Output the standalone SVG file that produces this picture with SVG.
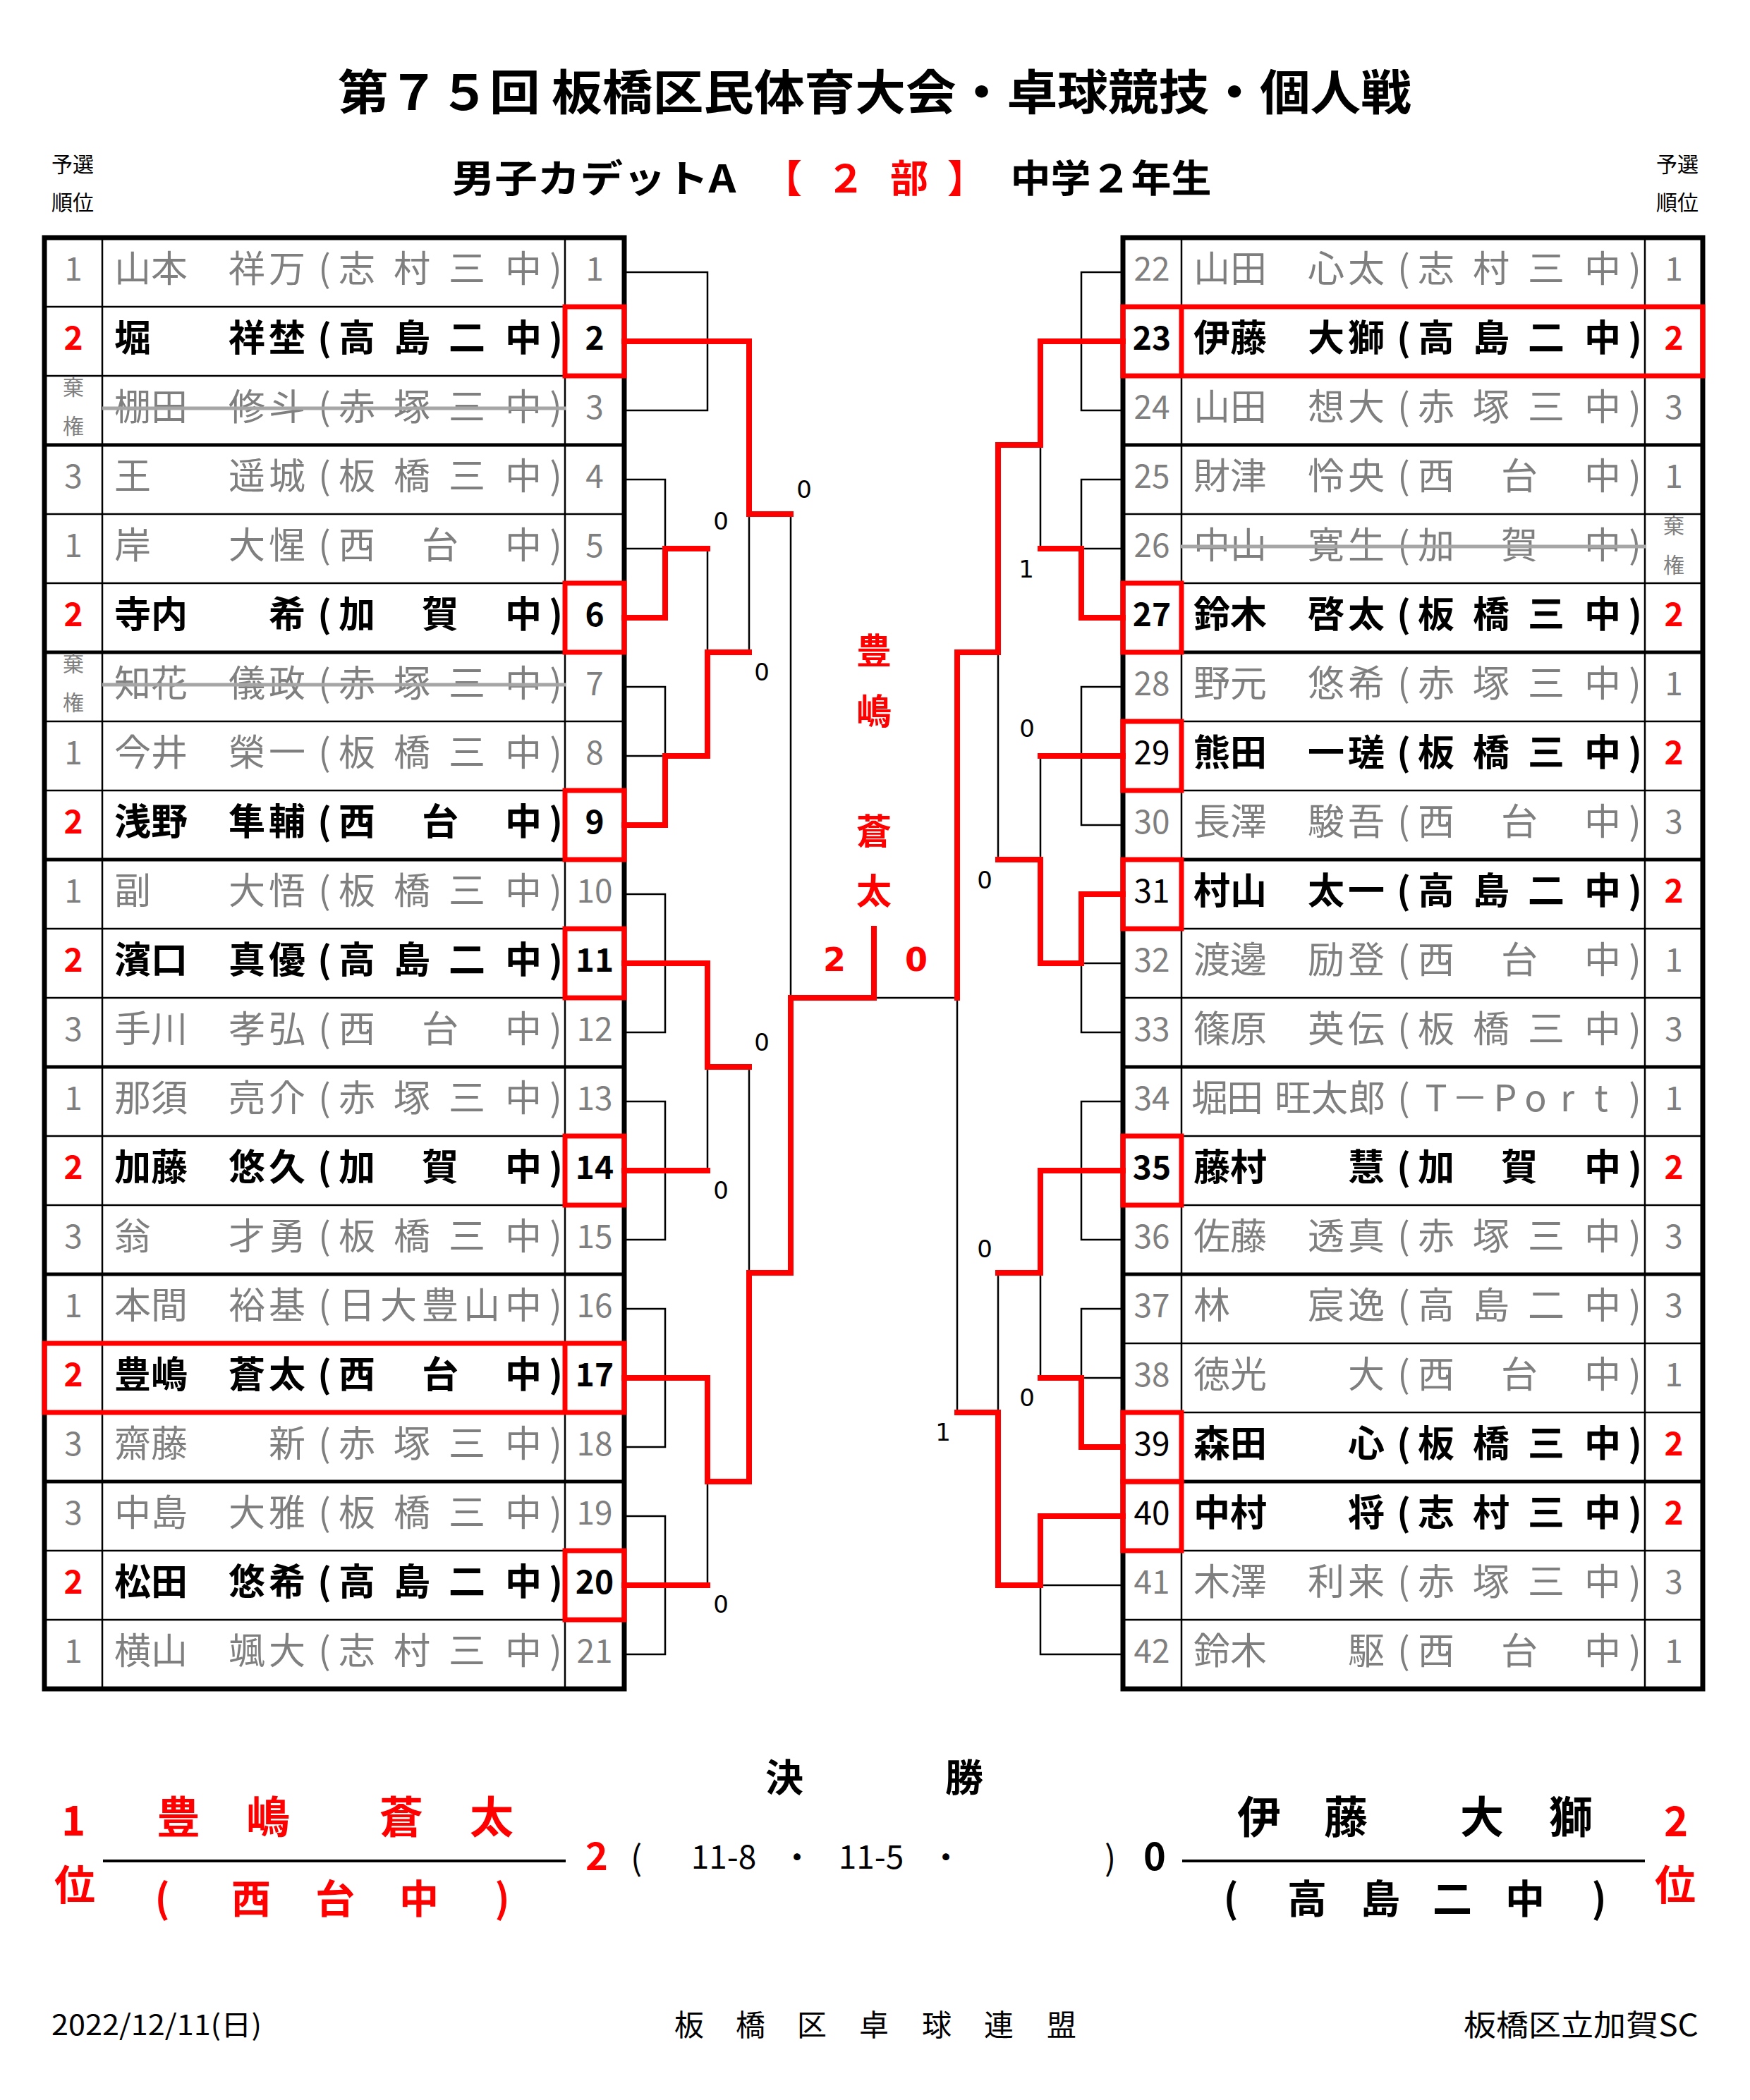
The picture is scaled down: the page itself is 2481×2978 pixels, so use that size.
<svg xmlns="http://www.w3.org/2000/svg" width="2481" height="2978" viewBox="0 0 2481 2978">
<style>
.t{font-family:"Noto Sans CJK JP","Noto Sans",sans-serif;text-anchor:middle}
.gr{fill:#7f7f7f}
.bk{fill:#000}
.bd{font-weight:700}
.rd{fill:#ff0000}
.nm{font-size:52px}
.nu{font-size:46px}
.sm{font-size:30px}
.sc{font-family:"DejaVu Sans",sans-serif;font-size:34px;text-anchor:middle;fill:#000}
.thin{stroke:#000;stroke-width:2.5;fill:none}
.grp{stroke:#000;stroke-width:5;fill:none}
.outer{stroke:#000;stroke-width:7;fill:none}
.rbox{stroke:#ff0000;stroke-width:7;fill:none}
.wire{stroke:#000;stroke-width:2.5;fill:none}
.win{stroke:#ff0000;stroke-width:8;fill:none;stroke-linecap:square;stroke-linejoin:miter}
.strike{stroke:#a6a6a6;stroke-width:5}
</style>
<rect width="2481" height="2978" fill="#fff"/>

<g id="header">
<text class="t bk bd" x="1240" y="156" font-size="68" textLength="1522" lengthAdjust="spacingAndGlyphs">第７５回 板橋区民体育大会・卓球競技・個人戦</text>
<text class="t bk bd" x="842" y="273" font-size="54" textLength="403" lengthAdjust="spacingAndGlyphs">男子カデットA</text>
<text class="t rd bd" x="1110 1199 1289 1370" y="273" font-size="54">【２部】</text>
<text class="t bk bd" x="1575" y="273" font-size="54" textLength="285" lengthAdjust="spacingAndGlyphs">中学２年生</text>
<text class="t bk sm" x="103" y="244">予選</text>
<text class="t bk sm" x="103" y="298">順位</text>
<text class="t bk sm" x="2378" y="244">予選</text>
<text class="t bk sm" x="2378" y="298">順位</text>
</g>

<g id="left-table">
<rect class="outer" x="63" y="337" width="822" height="2058"/>
<path class="thin" d="M145,337V2395M801,337V2395M63,435H885M63,533H885M63,729H885M63,827H885M63,1023H885M63,1121H885M63,1317H885M63,1415H885M63,1611H885M63,1709H885M63,1905H885M63,2003H885M63,2199H885M63,2297H885"/>
<path class="grp" d="M63,631H885M63,925H885M63,1219H885M63,1513H885M63,1807H885M63,2101H885"/>
</g>
<g id="right-table">
<rect class="outer" x="1592" y="337" width="822" height="2058"/>
<path class="thin" d="M1675,337V2395M2332,337V2395M1592,435H2414M1592,533H2414M1592,729H2414M1592,827H2414M1592,1023H2414M1592,1121H2414M1592,1317H2414M1592,1415H2414M1592,1611H2414M1592,1709H2414M1592,1905H2414M1592,2003H2414M1592,2199H2414M1592,2297H2414"/>
<path class="grp" d="M1592,631H2414M1592,925H2414M1592,1219H2414M1592,1513H2414M1592,1807H2414M1592,2101H2414"/>
</g>

<g id="L1"><text class="t gr nu" x="104" y="398">1</text><text class="t gr nm" x="188 240 350 407 460 506 584 662 742 788" y="400">山本祥万(志村三中)</text><text class="t gr nu" x="843" y="398">1</text></g>
<g id="L2"><text class="t rd bd nu" x="104" y="496">2</text><text class="t bk bd nm" x="188 350 407 460 506 584 662 742 788" y="498">堀祥埜(高島二中)</text><text class="t bk bd nu" x="843" y="496">2</text></g>
<g id="L3"><text class="t gr sm" x="104" y="560">棄</text><text class="t gr sm" x="104" y="615">権</text><text class="t gr nm" x="188 240 350 407 460 506 584 662 742 788" y="596">棚田修斗(赤塚三中)</text><line class="strike" x1="145" y1="579" x2="802" y2="579"/><text class="t gr nu" x="843" y="594">3</text></g>
<g id="L4"><text class="t gr nu" x="104" y="692">3</text><text class="t gr nm" x="188 350 407 460 506 584 662 742 788" y="694">王遥城(板橋三中)</text><text class="t gr nu" x="843" y="692">4</text></g>
<g id="L5"><text class="t gr nu" x="104" y="790">1</text><text class="t gr nm" x="188 350 407 460 506 624 742 788" y="792">岸大惺(西台中)</text><text class="t gr nu" x="843" y="790">5</text></g>
<g id="L6"><text class="t rd bd nu" x="104" y="888">2</text><text class="t bk bd nm" x="188 240 407 460 506 624 742 788" y="890">寺内希(加賀中)</text><text class="t bk bd nu" x="843" y="888">6</text></g>
<g id="L7"><text class="t gr sm" x="104" y="952">棄</text><text class="t gr sm" x="104" y="1007">権</text><text class="t gr nm" x="188 240 350 407 460 506 584 662 742 788" y="988">知花儀政(赤塚三中)</text><line class="strike" x1="145" y1="971" x2="802" y2="971"/><text class="t gr nu" x="843" y="986">7</text></g>
<g id="L8"><text class="t gr nu" x="104" y="1084">1</text><text class="t gr nm" x="188 240 350 407 460 506 584 662 742 788" y="1086">今井榮一(板橋三中)</text><text class="t gr nu" x="843" y="1084">8</text></g>
<g id="L9"><text class="t rd bd nu" x="104" y="1182">2</text><text class="t bk bd nm" x="188 240 350 407 460 506 624 742 788" y="1184">浅野隼輔(西台中)</text><text class="t bk bd nu" x="843" y="1182">9</text></g>
<g id="L10"><text class="t gr nu" x="104" y="1280">1</text><text class="t gr nm" x="188 350 407 460 506 584 662 742 788" y="1282">副大悟(板橋三中)</text><text class="t gr nu" x="843" y="1280">10</text></g>
<g id="L11"><text class="t rd bd nu" x="104" y="1378">2</text><text class="t bk bd nm" x="188 240 350 407 460 506 584 662 742 788" y="1380">濱口真優(高島二中)</text><text class="t bk bd nu" x="843" y="1378">11</text></g>
<g id="L12"><text class="t gr nu" x="104" y="1476">3</text><text class="t gr nm" x="188 240 350 407 460 506 624 742 788" y="1478">手川孝弘(西台中)</text><text class="t gr nu" x="843" y="1476">12</text></g>
<g id="L13"><text class="t gr nu" x="104" y="1574">1</text><text class="t gr nm" x="188 240 350 407 460 506 584 662 742 788" y="1576">那須亮介(赤塚三中)</text><text class="t gr nu" x="843" y="1574">13</text></g>
<g id="L14"><text class="t rd bd nu" x="104" y="1672">2</text><text class="t bk bd nm" x="188 240 350 407 460 506 624 742 788" y="1674">加藤悠久(加賀中)</text><text class="t bk bd nu" x="843" y="1672">14</text></g>
<g id="L15"><text class="t gr nu" x="104" y="1770">3</text><text class="t gr nm" x="188 350 407 460 506 584 662 742 788" y="1772">翁才勇(板橋三中)</text><text class="t gr nu" x="843" y="1770">15</text></g>
<g id="L16"><text class="t gr nu" x="104" y="1868">1</text><text class="t gr nm" x="188 240 350 407 460 506 565 624 683 742 788" y="1870">本間裕基(日大豊山中)</text><text class="t gr nu" x="843" y="1868">16</text></g>
<g id="L17"><text class="t rd bd nu" x="104" y="1966">2</text><text class="t bk bd nm" x="188 240 350 407 460 506 624 742 788" y="1968">豊嶋蒼太(西台中)</text><text class="t bk bd nu" x="843" y="1966">17</text></g>
<g id="L18"><text class="t gr nu" x="104" y="2064">3</text><text class="t gr nm" x="188 240 407 460 506 584 662 742 788" y="2066">齋藤新(赤塚三中)</text><text class="t gr nu" x="843" y="2064">18</text></g>
<g id="L19"><text class="t gr nu" x="104" y="2162">3</text><text class="t gr nm" x="188 240 350 407 460 506 584 662 742 788" y="2164">中島大雅(板橋三中)</text><text class="t gr nu" x="843" y="2162">19</text></g>
<g id="L20"><text class="t rd bd nu" x="104" y="2260">2</text><text class="t bk bd nm" x="188 240 350 407 460 506 584 662 742 788" y="2262">松田悠希(高島二中)</text><text class="t bk bd nu" x="843" y="2260">20</text></g>
<g id="L21"><text class="t gr nu" x="104" y="2358">1</text><text class="t gr nm" x="188 240 350 407 460 506 584 662 742 788" y="2360">横山颯大(志村三中)</text><text class="t gr nu" x="843" y="2358">21</text></g>

<g id="R22"><text class="t gr nu" x="1633" y="398">22</text><text class="t gr nm" x="1718 1770 1880 1937 1990 2036 2114 2192 2272 2318" y="400">山田心太(志村三中)</text><text class="t gr nu" x="2373" y="398">1</text></g>
<g id="R23"><text class="t bk bd nu" x="1633" y="496">23</text><text class="t bk bd nm" x="1718 1770 1880 1937 1990 2036 2114 2192 2272 2318" y="498">伊藤大獅(高島二中)</text><text class="t rd bd nu" x="2373" y="496">2</text></g>
<g id="R24"><text class="t gr nu" x="1633" y="594">24</text><text class="t gr nm" x="1718 1770 1880 1937 1990 2036 2114 2192 2272 2318" y="596">山田想大(赤塚三中)</text><text class="t gr nu" x="2373" y="594">3</text></g>
<g id="R25"><text class="t gr nu" x="1633" y="692">25</text><text class="t gr nm" x="1718 1770 1880 1937 1990 2036 2154 2272 2318" y="694">財津怜央(西台中)</text><text class="t gr nu" x="2373" y="692">1</text></g>
<g id="R26"><text class="t gr nu" x="1633" y="790">26</text><text class="t gr nm" x="1718 1770 1880 1937 1990 2036 2154 2272 2318" y="792">中山寛生(加賀中)</text><line class="strike" x1="1673" y1="775" x2="2334" y2="775"/><text class="t gr sm" x="2373" y="756">棄</text><text class="t gr sm" x="2373" y="812">権</text></g>
<g id="R27"><text class="t bk bd nu" x="1633" y="888">27</text><text class="t bk bd nm" x="1718 1770 1880 1937 1990 2036 2114 2192 2272 2318" y="890">鈴木啓太(板橋三中)</text><text class="t rd bd nu" x="2373" y="888">2</text></g>
<g id="R28"><text class="t gr nu" x="1633" y="986">28</text><text class="t gr nm" x="1718 1770 1880 1937 1990 2036 2114 2192 2272 2318" y="988">野元悠希(赤塚三中)</text><text class="t gr nu" x="2373" y="986">1</text></g>
<g id="R29"><text class="t bk nu" x="1633" y="1084">29</text><text class="t bk bd nm" x="1718 1770 1880 1937 1990 2036 2114 2192 2272 2318" y="1086">熊田一瑳(板橋三中)</text><text class="t rd bd nu" x="2373" y="1084">2</text></g>
<g id="R30"><text class="t gr nu" x="1633" y="1182">30</text><text class="t gr nm" x="1718 1770 1880 1937 1990 2036 2154 2272 2318" y="1184">長澤駿吾(西台中)</text><text class="t gr nu" x="2373" y="1182">3</text></g>
<g id="R31"><text class="t bk nu" x="1633" y="1280">31</text><text class="t bk bd nm" x="1718 1770 1880 1937 1990 2036 2114 2192 2272 2318" y="1282">村山太一(高島二中)</text><text class="t rd bd nu" x="2373" y="1280">2</text></g>
<g id="R32"><text class="t gr nu" x="1633" y="1378">32</text><text class="t gr nm" x="1718 1770 1880 1937 1990 2036 2154 2272 2318" y="1380">渡邊励登(西台中)</text><text class="t gr nu" x="2373" y="1378">1</text></g>
<g id="R33"><text class="t gr nu" x="1633" y="1476">33</text><text class="t gr nm" x="1718 1770 1880 1937 1990 2036 2114 2192 2272 2318" y="1478">篠原英伝(板橋三中)</text><text class="t gr nu" x="2373" y="1476">3</text></g>
<g id="R34"><text class="t gr nu" x="1633" y="1574">34</text><text class="t gr nm" x="1715 1765 1833 1885 1938 1990 2036 2084 2134 2177 2222 2270 2318" y="1576">堀田旺太郎(T－Port)</text><text class="t gr nu" x="2373" y="1574">1</text></g>
<g id="R35"><text class="t bk bd nu" x="1633" y="1672">35</text><text class="t bk bd nm" x="1718 1770 1937 1990 2036 2154 2272 2318" y="1674">藤村慧(加賀中)</text><text class="t rd bd nu" x="2373" y="1672">2</text></g>
<g id="R36"><text class="t gr nu" x="1633" y="1770">36</text><text class="t gr nm" x="1718 1770 1880 1937 1990 2036 2114 2192 2272 2318" y="1772">佐藤透真(赤塚三中)</text><text class="t gr nu" x="2373" y="1770">3</text></g>
<g id="R37"><text class="t gr nu" x="1633" y="1868">37</text><text class="t gr nm" x="1718 1880 1937 1990 2036 2114 2192 2272 2318" y="1870">林宸逸(高島二中)</text><text class="t gr nu" x="2373" y="1868">3</text></g>
<g id="R38"><text class="t gr nu" x="1633" y="1966">38</text><text class="t gr nm" x="1718 1770 1937 1990 2036 2154 2272 2318" y="1968">徳光大(西台中)</text><text class="t gr nu" x="2373" y="1966">1</text></g>
<g id="R39"><text class="t bk nu" x="1633" y="2064">39</text><text class="t bk bd nm" x="1718 1770 1937 1990 2036 2114 2192 2272 2318" y="2066">森田心(板橋三中)</text><text class="t rd bd nu" x="2373" y="2064">2</text></g>
<g id="R40"><text class="t bk nu" x="1633" y="2162">40</text><text class="t bk bd nm" x="1718 1770 1937 1990 2036 2114 2192 2272 2318" y="2164">中村将(志村三中)</text><text class="t rd bd nu" x="2373" y="2162">2</text></g>
<g id="R41"><text class="t gr nu" x="1633" y="2260">41</text><text class="t gr nm" x="1718 1770 1880 1937 1990 2036 2114 2192 2272 2318" y="2262">木澤利来(赤塚三中)</text><text class="t gr nu" x="2373" y="2260">3</text></g>
<g id="R42"><text class="t gr nu" x="1633" y="2358">42</text><text class="t gr nm" x="1718 1770 1937 1990 2036 2154 2272 2318" y="2360">鈴木駆(西台中)</text><text class="t gr nu" x="2373" y="2358">1</text></g>

<g id="highlights">
<rect class="rbox" x="801" y="435" width="84" height="98"/>
<rect class="rbox" x="801" y="827" width="84" height="98"/>
<rect class="rbox" x="801" y="1121" width="84" height="98"/>
<rect class="rbox" x="801" y="1317" width="84" height="98"/>
<rect class="rbox" x="801" y="1611" width="84" height="98"/>
<rect class="rbox" x="801" y="2199" width="84" height="98"/>
<rect class="rbox" x="63" y="1905" width="822" height="98"/>
<line class="rbox" x1="801" y1="1905" x2="801" y2="2003"/>
<rect class="rbox" x="1592" y="827" width="83" height="98"/>
<rect class="rbox" x="1592" y="1023" width="83" height="98"/>
<rect class="rbox" x="1592" y="1219" width="83" height="98"/>
<rect class="rbox" x="1592" y="1611" width="83" height="98"/>
<rect class="rbox" x="1592" y="2003" width="83" height="98"/>
<rect class="rbox" x="1592" y="2101" width="83" height="98"/>
<rect class="rbox" x="1592" y="435" width="822" height="98"/>
<line class="rbox" x1="1675" y1="435" x2="1675" y2="533"/>
</g>

<g id="connectors">
<path class="wire" d="M885,386H1003V582H885M885,680H943V778H885M885,974H943V1072H885M885,1268H943V1464H885M885,1562H943V1758H885M885,1856H943V2052H885M885,2150H943V2346H885M1003,778V925M1003,1513V1660M1003,2101V2248M1062,729V925M1062,1513V1805M1121,729V1415"/>
<path class="wire" d="M1592,386H1533V582H1592M1592,680H1533V778H1592M1592,974H1533V1170H1592M1592,1366H1533V1464H1592M1592,1562H1533V1758H1592M1592,1856H1533V1954H1592M1592,2248H1475V2346H1592M1475,631V778M1475,1072V1219M1475,1805V1954M1415,925V1219M1415,1805V2003M1357,1415V2003M1357,1415H1239"/>
<path class="win" d="M885,484H1062V729H1121"/>
<path class="win" d="M885,876H943V778H1003"/>
<path class="win" d="M885,1170H943V1072H1003V925H1062"/>
<path class="win" d="M885,1366H1003V1513H1062"/>
<path class="win" d="M885,1660H1003"/>
<path class="win" d="M885,1954H1003V2101H1062V1805H1121V1415H1239V1317"/>
<path class="win" d="M885,2248H1003"/>
<path class="win" d="M1592,484H1475V631H1415V925H1357V1415"/>
<path class="win" d="M1592,876H1533V778H1475"/>
<path class="win" d="M1592,1072H1475"/>
<path class="win" d="M1592,1268H1533V1366H1475V1219H1415"/>
<path class="win" d="M1592,1660H1475V1805H1415"/>
<path class="win" d="M1592,2052H1533V1954H1475"/>
<path class="win" d="M1592,2150H1475V2248H1415V2003H1357"/>
</g>

<g id="scores">
<text class="sc" x="1140" y="706">0</text>
<text class="sc" x="1022" y="751">0</text>
<text class="sc" x="1080" y="965">0</text>
<text class="sc" x="1080" y="1490">0</text>
<text class="sc" x="1022" y="1700">0</text>
<text class="sc" x="1022" y="2287">0</text>
<text class="sc" x="1455" y="819">1</text>
<text class="sc" x="1456" y="1045">0</text>
<text class="sc" x="1396" y="1260">0</text>
<text class="sc" x="1396" y="1783">0</text>
<text class="sc" x="1456" y="1994">0</text>
<text class="sc" x="1337" y="2043">1</text>
<text x="1183" y="1377" font-family="DejaVu Sans,sans-serif" font-weight="700" font-size="46" fill="#ff0000" text-anchor="middle">2</text>
<text x="1299" y="1377" font-family="DejaVu Sans,sans-serif" font-weight="700" font-size="46" fill="#ff0000" text-anchor="middle">0</text>
</g>

<g id="champion-vertical">
<text class="t rd bd" font-size="50" x="1239" y="941">豊</text>
<text class="t rd bd" font-size="50" x="1239" y="1027">嶋</text>
<text class="t rd bd" font-size="50" x="1239" y="1197">蒼</text>
<text class="t rd bd" font-size="50" x="1239" y="1282">太</text>
</g>

<g id="final">
<text class="t bk bd" font-size="54" x="1112 1367" y="2541">決勝</text>
<text class="t rd bd" font-size="58" x="104" y="2603">1</text>
<text class="t rd bd" font-size="58" x="106" y="2694">位</text>
<text class="t rd bd" font-size="62" x="253 380 569 697" y="2600">豊嶋蒼太</text>
<line x1="146" y1="2639" x2="802" y2="2639" stroke="#000" stroke-width="4"/>
<text class="t rd bd" font-size="56" x="230 356 475 594 712" y="2713">(西台中)</text>
<text class="t rd bd" font-size="54" x="846" y="2652">2</text>
<text class="t bk" font-size="48" x="902" y="2652">(</text>
<text class="t bk" font-size="46" x="1026" y="2650">11-8</text>
<text class="t bk" font-size="46" x="1130" y="2650">・</text>
<text class="t bk" font-size="46" x="1235" y="2650">11-5</text>
<text class="t bk" font-size="46" x="1341" y="2650">・</text>
<text class="t bk" font-size="48" x="1574" y="2652">)</text>
<text class="t bk bd" font-size="54" x="1637" y="2652">0</text>
<text class="t bk bd" font-size="62" x="1785 1908 2101 2227" y="2600">伊藤大獅</text>
<line x1="1676" y1="2639" x2="2332" y2="2639" stroke="#000" stroke-width="4"/>
<text class="t bk bd" font-size="56" x="1745 1853 1957 2059 2162 2267" y="2713">(高島二中)</text>
<text class="t rd bd" font-size="58" x="2376" y="2604">2</text>
<text class="t rd bd" font-size="58" x="2375" y="2694">位</text>
</g>

<g id="footer">
<text class="t bk" font-size="40" x="222" y="2886" textLength="298" lengthAdjust="spacingAndGlyphs">2022/12/11(日)</text>
<text class="t bk" font-size="42" x="977 1064 1151 1239 1328 1416 1505" y="2887">板橋区卓球連盟</text>
<text class="bk" font-family="Noto Sans CJK JP,sans-serif" font-size="42" x="2408" y="2887" text-anchor="end" textLength="333" lengthAdjust="spacingAndGlyphs">板橋区立加賀SC</text>
</g>
</svg>
